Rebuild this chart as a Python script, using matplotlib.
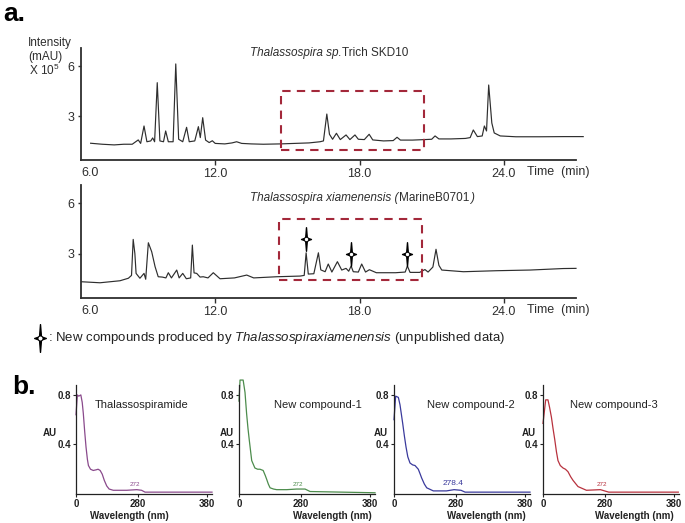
"""HPLC chromatograms (a) and UV spectra (b) of Thalassospira compounds."""
import numpy as np
import matplotlib
matplotlib.use("Agg")
import matplotlib.pyplot as plt
from matplotlib.path import Path
from matplotlib.lines import Line2D

plt.rcParams["font.family"] = ["Liberation Sans", "DejaVu Sans"]
plt.rcParams["mathtext.fontset"] = "custom"
plt.rcParams["mathtext.rm"] = "Liberation Sans"
plt.rcParams["mathtext.it"] = "Liberation Sans:italic"
plt.rcParams["mathtext.bf"] = "Liberation Sans:bold"

# ---- panel a: chromatograms (time in min, intensity x10^5 mAU) ----
top_time = [6.82, 7.3, 7.8, 8.2, 8.55, 8.8, 8.9, 9.04, 9.16, 9.32, 9.40, 9.48,
            9.59, 9.7, 9.85, 9.94, 10.05, 10.25, 10.36, 10.48, 10.65, 10.81,
            10.92, 11.15, 11.3, 11.38, 11.48, 11.6, 11.75, 11.88, 12.0, 12.4,
            12.7, 12.89, 13.1, 13.5, 14.0, 14.7, 15.3, 15.9, 16.36, 16.5,
            16.64, 16.75, 16.88, 17.04, 17.2, 17.44, 17.6, 17.81, 17.95, 18.2,
            18.4, 18.55, 19.0, 19.4, 19.56, 19.7, 20.2, 20.7, 21.0, 21.14,
            21.3, 21.8, 22.4, 22.6, 22.73, 22.9, 23.1, 23.19, 23.28, 23.37,
            23.5, 23.6, 23.85, 24.5, 25.5, 26.5, 27.3]
top_int = [1.36, 1.30, 1.26, 1.30, 1.30, 1.56, 1.35, 2.40, 1.45, 1.50, 1.68, 1.45,
           5.01, 1.50, 1.45, 2.10, 1.45, 1.45, 6.14, 1.60, 1.45, 2.32,
           1.45, 1.50, 2.36, 1.70, 2.90, 1.55, 1.40, 1.51, 1.35, 1.32,
           1.38, 1.45, 1.35, 1.32, 1.30, 1.32, 1.35, 1.38, 1.45, 1.50,
           3.12, 1.90, 1.60, 1.96, 1.58, 1.86, 1.58, 1.86, 1.60, 1.58,
           1.90, 1.56, 1.50, 1.52, 1.72, 1.55, 1.55, 1.58, 1.60, 1.80,
           1.62, 1.62, 1.65, 1.70, 2.16, 1.76, 1.80, 2.40, 2.10, 4.87,
           2.58, 1.98, 1.80, 1.75, 1.75, 1.76, 1.76]

bot_time = [6.45, 7.21, 8.04, 8.39, 8.52, 8.59, 8.66, 8.71, 8.87, 9.04, 9.11,
            9.22, 9.36, 9.5, 9.63, 9.8, 9.95, 10.05, 10.18, 10.4, 10.5, 10.65,
            10.8, 10.98, 11.05, 11.12, 11.23, 11.37, 11.5, 11.7, 11.92, 12.2,
            12.8, 13.31, 13.6, 14.56, 15.53, 15.7, 15.78, 15.87, 16.1, 16.29,
            16.39, 16.57, 16.7, 16.85, 17.08, 17.26, 17.44, 17.55, 17.65,
            17.74, 17.95, 18.09, 18.25, 18.41, 18.7, 19.5, 19.9, 19.99, 20.1,
            20.5, 20.72, 20.85, 21.05, 21.18, 21.3, 21.42, 22.32, 23.7, 25.09,
            26.47, 27.0]
bot_int = [1.32, 1.26, 1.38, 1.53, 1.70, 3.85, 3.00, 1.82, 1.53, 1.82, 1.47,
           3.65, 3.11, 2.22, 1.62, 1.60, 1.55, 1.86, 1.55, 2.02, 1.55, 1.82,
           1.50, 1.55, 3.51, 1.85, 1.82, 1.60, 1.62, 1.55, 1.86, 1.50,
           1.55, 1.72, 1.55, 1.62, 1.66, 1.70, 3.05, 1.78, 1.80, 3.05,
           2.03, 1.92, 2.38, 1.90, 2.52, 2.02, 2.12, 1.95, 2.26,
           1.92, 1.90, 2.38, 1.90, 2.04, 1.86, 1.86, 1.90, 2.26, 1.88,
           1.88, 2.05, 1.90, 2.20, 3.26, 2.30, 2.02, 1.92, 1.98, 2.02,
           2.11, 2.12]

# new compounds marked in the bottom trace
star_time = [15.78, 17.65, 19.99]
star_int = [3.87, 2.96, 2.96]

# highlighted retention windows (t0, t1, i0, i1)
top_window = (14.74, 20.68, 0.95, 4.51)
bot_window = (14.65, 20.60, 1.42, 5.07)

# ---- panel b: UV spectra (wavelength nm, AU) ----
spec_names = ["Thalassospiramide", "New compound-1", "New compound-2", "New compound-3"]
spec_colors = ["#8a4a8c", "#4c8c4c", "#3a3a9c", "#b8323e"]
spec_peak_labels = ["272", "272", "278.4", "272"]
wl_0 = [190, 192, 194, 197, 199, 200.6, 202.5, 204.5, 206.5, 208, 211, 215, 219,
        222, 225, 228, 231, 234.5, 238, 244, 263.5, 278, 285, 290, 387]
au_0 = [0.64, 0.80, 0.79, 0.80, 0.74, 0.65, 0.51, 0.38, 0.28, 0.23, 0.20, 0.19, 0.195,
        0.20, 0.19, 0.16, 0.11, 0.065, 0.04, 0.03, 0.03, 0.035, 0.03, 0.015, 0.015]
wl_1 = [190, 191.5, 196, 198.7, 201, 203, 205, 208.4, 213, 217, 220.4, 225, 228,
        230, 232.5, 235, 240, 244.6, 259, 273.6, 285.7, 293, 387]
au_1 = [0.75, 0.92, 0.92, 0.82, 0.65, 0.53, 0.43, 0.27, 0.21, 0.20, 0.20, 0.19, 0.15,
        0.12, 0.08, 0.05, 0.04, 0.035, 0.035, 0.04, 0.04, 0.02, 0.01]
wl_2 = [190, 192.4, 196.3, 198.7, 202.6, 205, 207.4, 210, 213.2, 217, 220.4, 225.2,
        228, 230, 234, 237.4, 247, 266, 277, 287, 293, 387]
au_2 = [0.60, 0.79, 0.78, 0.72, 0.57, 0.47, 0.38, 0.30, 0.25, 0.235, 0.23, 0.20,
        0.16, 0.13, 0.08, 0.05, 0.025, 0.025, 0.035, 0.03, 0.015, 0.015]
wl_3 = [190, 193.9, 197.2, 199.5, 202.2, 204.5, 207, 209.5, 211.7, 215, 219, 222.5,
        226.2, 230, 233.5, 240.7, 252.9, 273.2, 285.2, 386]
au_3 = [0.57, 0.76, 0.76, 0.70, 0.62, 0.53, 0.44, 0.34, 0.27, 0.23, 0.21, 0.20,
        0.18, 0.14, 0.11, 0.06, 0.03, 0.035, 0.015, 0.015]
spec_wl = [wl_0, wl_1, wl_2, wl_3]
spec_au = [au_0, au_1, au_2, au_3]

W, H = 685, 523
fig = plt.figure(figsize=(W / 100, H / 100), dpi=100)


def rect(l, t, r, b):
    return [l / W, 1 - b / H, (r - l) / W, (b - t) / H]


def ftext(x, y, s, **kw):
    return fig.text(x / W, 1 - y / H, s, **kw)


# four-point star marker
star = Path([(0, 1), (0.07, 0.12), (0.42, 0), (0.07, -0.12), (0, -1),
             (-0.07, -0.12), (-0.42, 0), (-0.07, 0.12), (0, 1)],
            [Path.MOVETO] + [Path.LINETO] * 7 + [Path.CLOSEPOLY])

ink = "#2e2e2e"
box_red = "#a3283a"

chrom = [
    (rect(81, 48, 576, 160), top_time, top_int, top_window,
     ("Thalassospira sp.", "Trich SKD10", ""), 53, 172),
    (rect(81, 185, 576, 298), bot_time, bot_int, bot_window,
     ("Thalassospira xiamenensis (", "MarineB0701", ")"), 198, 310),
]
fig.canvas.draw()
renderer = fig.canvas.get_renderer()
for i, (pos, t, y, win, title, ty, ly) in enumerate(chrom):
    ax = fig.add_axes(pos)
    ax.plot(t, y, color=ink, lw=0.85, clip_on=False)
    t0, t1, i0, i1 = win
    ax.plot([t0, t1, t1, t0, t0], [i0, i0, i1, i1, i0], color=box_red,
            lw=1.5, dashes=(4, 3))
    ax.set_xlim(6.42, 27.0)
    ax.set_ylim(0.35, 7.1)
    ax.set_xticks([12, 18, 24])
    ax.set_xticklabels(["12.0", "18.0", "24.0"])
    ax.set_yticks([3, 6])
    ax.set_yticklabels(["3", "6"])
    ax.tick_params(axis="x", length=3.5, width=1, pad=2.5, labelsize=9, colors=ink)
    ax.tick_params(axis="y", length=2, width=1, pad=3, labelsize=9, colors=ink)
    for s in ("top", "right"):
        ax.spines[s].set_visible(False)
    for s in ("left", "bottom"):
        ax.spines[s].set_linewidth(1.3)
        ax.spines[s].set_color(ink)
    ax.patch.set_alpha(0)
    ax.text(0.0, -0.115, "6.0", transform=ax.transAxes, ha="left", va="center",
            fontsize=9, color=ink)
    # mixed italic / roman title, pieces laid side by side
    x = 250
    for j, piece in enumerate(title):
        if not piece:
            continue
        txt = ftext(x, ty, piece, ha="left", va="center", fontsize=8.5, color=ink,
                    fontstyle="normal" if j == 1 else "italic")
        x += txt.get_window_extent(renderer).width + 0.5
    ftext(558, ly, "Time  (min)", ha="center", va="center", fontsize=9, color=ink)
    if i == 1:
        ax.plot(star_time, star_int, ls="none", marker=star, ms=17,
                color="black", clip_on=False)
        ax.plot(star_time, star_int, ls="none", marker="o", ms=3.2,
                mfc="white", mec="black", mew=0.7)

ftext(28, 43, "Intensity", ha="left", va="center", fontsize=8.5, color=ink)
ftext(28, 57, "(mAU)", ha="left", va="center", fontsize=8.5, color=ink)
ftext(29, 70, r"X 10$^5$", ha="left", va="center", fontsize=8.5, color=ink)
ftext(3, 14, "a.", ha="left", va="center", fontsize=19, fontweight="bold")

# legend line for the star symbol
fig.add_artist(Line2D([40 / W], [1 - 338 / H], ls="none", marker=star, ms=20,
                      color="black", transform=fig.transFigure))
fig.add_artist(Line2D([40 / W], [1 - 338 / H], ls="none", marker="o", ms=3.6,
                      mfc="white", mec="black", mew=0.7, transform=fig.transFigure))
ftext(48, 338, r": New compounds produced by $\mathit{Thalassospira xiamenensis}$ (unpublished data)",
      ha="left", va="center", fontsize=9.5, color="#222222")

ftext(12, 387, "b.", ha="left", va="center", fontsize=19, fontweight="bold")

spec_left = [76, 239, 394, 543]
title_dx = [66, 79, 77, 71]
au_x = [50, 227, 381, 529]
wave_x = [90, 293, 447, 595]
for k in range(4):
    l = spec_left[k]
    ax = fig.add_axes(rect(l, 385, l + 136, 494))
    ax.plot(spec_wl[k], spec_au[k], color=spec_colors[k], lw=0.9, clip_on=False)
    ax.text(276, 0.055, spec_peak_labels[k], color=spec_colors[k], ha="center",
            va="bottom", fontsize=6 if k == 2 else 4.5)
    ax.set_xlim(190, 387)
    ax.set_ylim(0, 0.88)
    ax.set_xticks([190, 280, 380])
    ax.set_xticklabels(["0", "280", "380"])
    ax.set_yticks([0.4, 0.8])
    ax.set_yticklabels(["0.4", "0.8"])
    ax.tick_params(length=2, width=0.8, pad=1.5, labelsize=7, colors="#222222")
    for lab in ax.get_xticklabels() + ax.get_yticklabels():
        lab.set_fontweight("bold")
    for s in ("top", "right"):
        ax.spines[s].set_visible(False)
    for s in ("left", "bottom"):
        ax.spines[s].set_linewidth(0.9)
        ax.spines[s].set_color("#222222")
    ax.patch.set_alpha(0)
    ftext(l + title_dx[k], 405, spec_names[k], ha="center", va="center",
          fontsize=8, color="#222222")
    ftext(au_x[k], 433, "AU", ha="center", va="center", fontsize=7,
          fontweight="bold", color="#222222")
    ftext(wave_x[k], 516, "Wavelength (nm)", ha="left", va="center", fontsize=7,
          fontweight="bold", color="#222222")

fig.savefig("out.png", dpi=100)
